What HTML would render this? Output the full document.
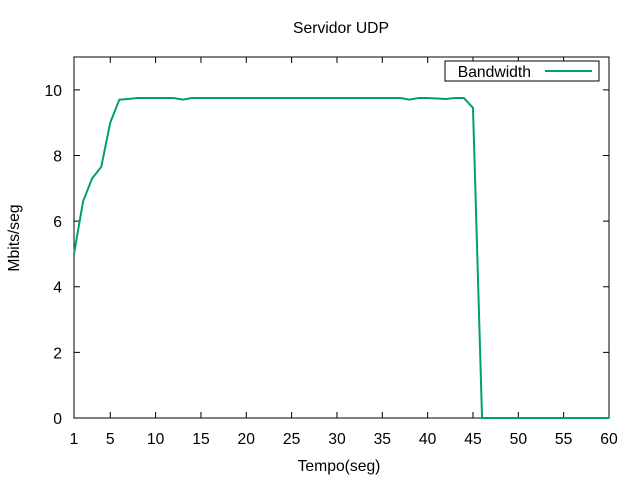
<!DOCTYPE html>
<html><head><meta charset="utf-8"><style>
body{margin:0;background:#fff;}
svg text{font-family:"Liberation Sans",sans-serif;font-size:15.7px;fill:#000;}
</style></head><body>
<svg id="chart" width="640" height="480" xmlns="http://www.w3.org/2000/svg">
<rect width="640" height="480" fill="#fff"/>
<text x="341" y="33" text-anchor="middle">Servidor UDP</text>
<text x="339" y="471" text-anchor="middle">Tempo(seg)</text>
<text x="19" y="238" text-anchor="middle" transform="rotate(-90 19 238)">Mbits/seg</text>
<g id="axes"></g>
<rect x="74" y="57" width="535" height="361" fill="none" stroke="#000" stroke-width="1"/>
<g>
<rect x="445" y="61" width="154" height="20" fill="#fff" stroke="#000"/>
<text x="531" y="77" text-anchor="end">Bandwidth</text>
<line x1="545" y1="71" x2="592" y2="71" stroke="#009e73" stroke-width="2"/>
</g>
<path id="line" fill="none" stroke="#009e73" stroke-width="2"/>
</svg>
<script>
const xs = [1,2,3,4,5,6,7,8,9,10,11,12,13,14,15,20,25,30,35,37,38,39,40,42,43,44,45,46,47,50,55,60];
const ys = [5.0,6.6,7.3,7.65,9.0,9.7,9.72,9.75,9.75,9.75,9.75,9.75,9.7,9.75,9.75,9.75,9.75,9.75,9.75,9.75,9.7,9.75,9.75,9.72,9.75,9.75,9.45,0,0,0,0,0];
const xTicks = [1,5,10,15,20,25,30,35,40,45,50,55,60];
const yTicks = [0,2,4,6,8,10];
const X = v => 74 + (v-1)*(535/59);
const Y = v => 418 - v*(361/11);
const ns = "http://www.w3.org/2000/svg";
const ax = document.getElementById('axes');
xTicks.forEach(t=>{
  const l=document.createElementNS(ns,'path');
  l.setAttribute('d',`M${X(t)},418v-6M${X(t)},57v6`);l.setAttribute('stroke','#000');
  
  
  ax.appendChild(l);
  const tx=document.createElementNS(ns,'text');
  tx.setAttribute('x',X(t));tx.setAttribute('y',444);tx.setAttribute('text-anchor','middle');tx.textContent=t;
  
  
  ax.appendChild(tx);
});
yTicks.forEach(t=>{
  const l=document.createElementNS(ns,'path');
  l.setAttribute('d',`M74,${Y(t)}h6M609,${Y(t)}h-6`);l.setAttribute('stroke','#000');
  
  
  ax.appendChild(l);
  const tx=document.createElementNS(ns,'text');
  tx.setAttribute('x',62);tx.setAttribute('y',Y(t)+6);tx.setAttribute('text-anchor','end');tx.textContent=t;
  
  
  ax.appendChild(tx);
});
document.getElementById('line').setAttribute('d', xs.map((x,i)=>(i?'L':'M')+X(x)+','+Y(ys[i])).join(''));
</script>
</body></html>
